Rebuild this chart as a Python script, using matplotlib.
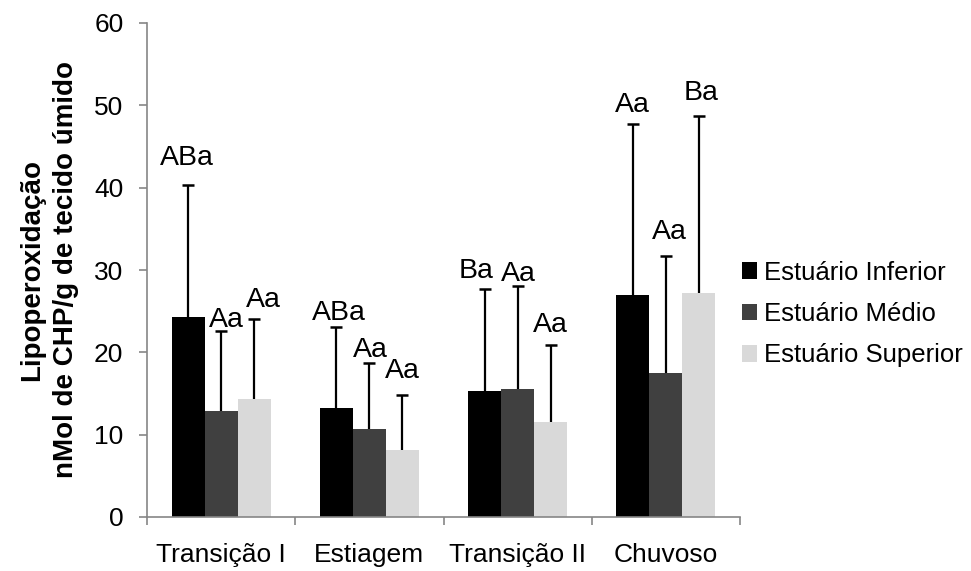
import numpy as np
import matplotlib
matplotlib.use("Agg")
import matplotlib.pyplot as plt
from matplotlib.patches import Patch

plt.rcParams['font.family'] = ['Liberation Sans', 'DejaVu Sans']

# dados
periodos = ['Transição I', 'Estiagem', 'Transição II', 'Chuvoso']
series = ['Estuário Inferior', 'Estuário Médio', 'Estuário Superior']
cores = ['#000000', '#404040', '#d9d9d9']

media_inferior = [24.3, 13.25, 15.3, 26.95]
media_medio = [12.85, 10.7, 15.6, 17.5]
media_superior = [14.35, 8.17, 11.5, 27.15]

dp_inferior = [16.0, 9.85, 12.4, 20.75]
dp_medio = [9.75, 7.95, 12.5, 14.25]
dp_superior = [9.65, 6.7, 9.35, 21.55]

letras_inferior = ['ABa', 'ABa', 'Ba', 'Aa']
letras_medio = ['Aa', 'Aa', 'Aa', 'Aa']
letras_superior = ['Aa', 'Aa', 'Aa', 'Ba']

medias = [media_inferior, media_medio, media_superior]
dps = [dp_inferior, dp_medio, dp_superior]
letras = [letras_inferior, letras_medio, letras_superior]

# deslocamento dos rótulos (pixels) em relação ao topo da barra de erro
desloc = [
    [(-1, 20), (3, 7), (-9, 11), (0, 12)],
    [(5, 4), (1, 6), (1, 5), (3, 17)],
    [(9, 12), (0, 17), (0, 13), (2, 16)],
]

fig = plt.figure(figsize=(9.71, 5.71), dpi=100)
ax = fig.add_axes([147 / 971, 54 / 571, 593 / 971, 494 / 571])

x = np.arange(len(periodos))
larg = 0.223
for i in range(3):
    pos = x + (i - 1) * larg
    m = np.array(medias[i])
    e = np.array(dps[i])
    ax.bar(pos, m, width=larg, color=cores[i], edgecolor='none', zorder=2)
    eb = ax.errorbar(pos, m, yerr=[np.zeros_like(e), e], fmt='none', ecolor='black',
                     elinewidth=1.6, capsize=4.5, capthick=1.8, zorder=3)
    # só a barra de erro superior tem traço
    eb[1][0].set_visible(False)
    for j in range(len(periodos)):
        ax.annotate(letras[i][j], (pos[j], m[j] + e[j]), xytext=desloc[i][j],
                    textcoords='offset pixels', ha='center', va='baseline',
                    fontsize=20.5)

ax.set_xlim(-0.5, 3.5)
ax.set_ylim(0, 60)
ax.set_yticks(np.arange(0, 61, 10))
ax.set_xticks(np.arange(-0.5, 4, 1))
ax.set_xticklabels([])
ax.set_xticks(x, minor=True)
ax.set_xticklabels(periodos, minor=True, fontsize=19)
ax.tick_params(axis='x', which='minor', length=0, pad=19)
ax.tick_params(axis='x', which='major', length=5.5, color='#868686', width=1.2)
ax.tick_params(axis='y', length=5.5, color='#868686', width=1.2, labelsize=19, pad=11.5)

for s in ['top', 'right']:
    ax.spines[s].set_visible(False)
for s in ['left', 'bottom']:
    ax.spines[s].set_color('#868686')
    ax.spines[s].set_linewidth(1.2)

ax.set_ylabel('Lipoperoxidação\nnMol de CHP/g de tecido úmido',
              fontsize=20, fontweight='bold', labelpad=11, linespacing=1.4)

alcas = [Patch(facecolor=c, edgecolor='none') for c in cores]
fig.legend(alcas, series, loc='center left', bbox_to_anchor=(742 / 971, 1 - 314 / 571),
           frameon=False, fontsize=18.5, handlelength=0.6, handleheight=0.6,
           handletextpad=0.25, labelspacing=0.68, borderaxespad=0, borderpad=0)

fig.savefig('out.png', dpi=100)
